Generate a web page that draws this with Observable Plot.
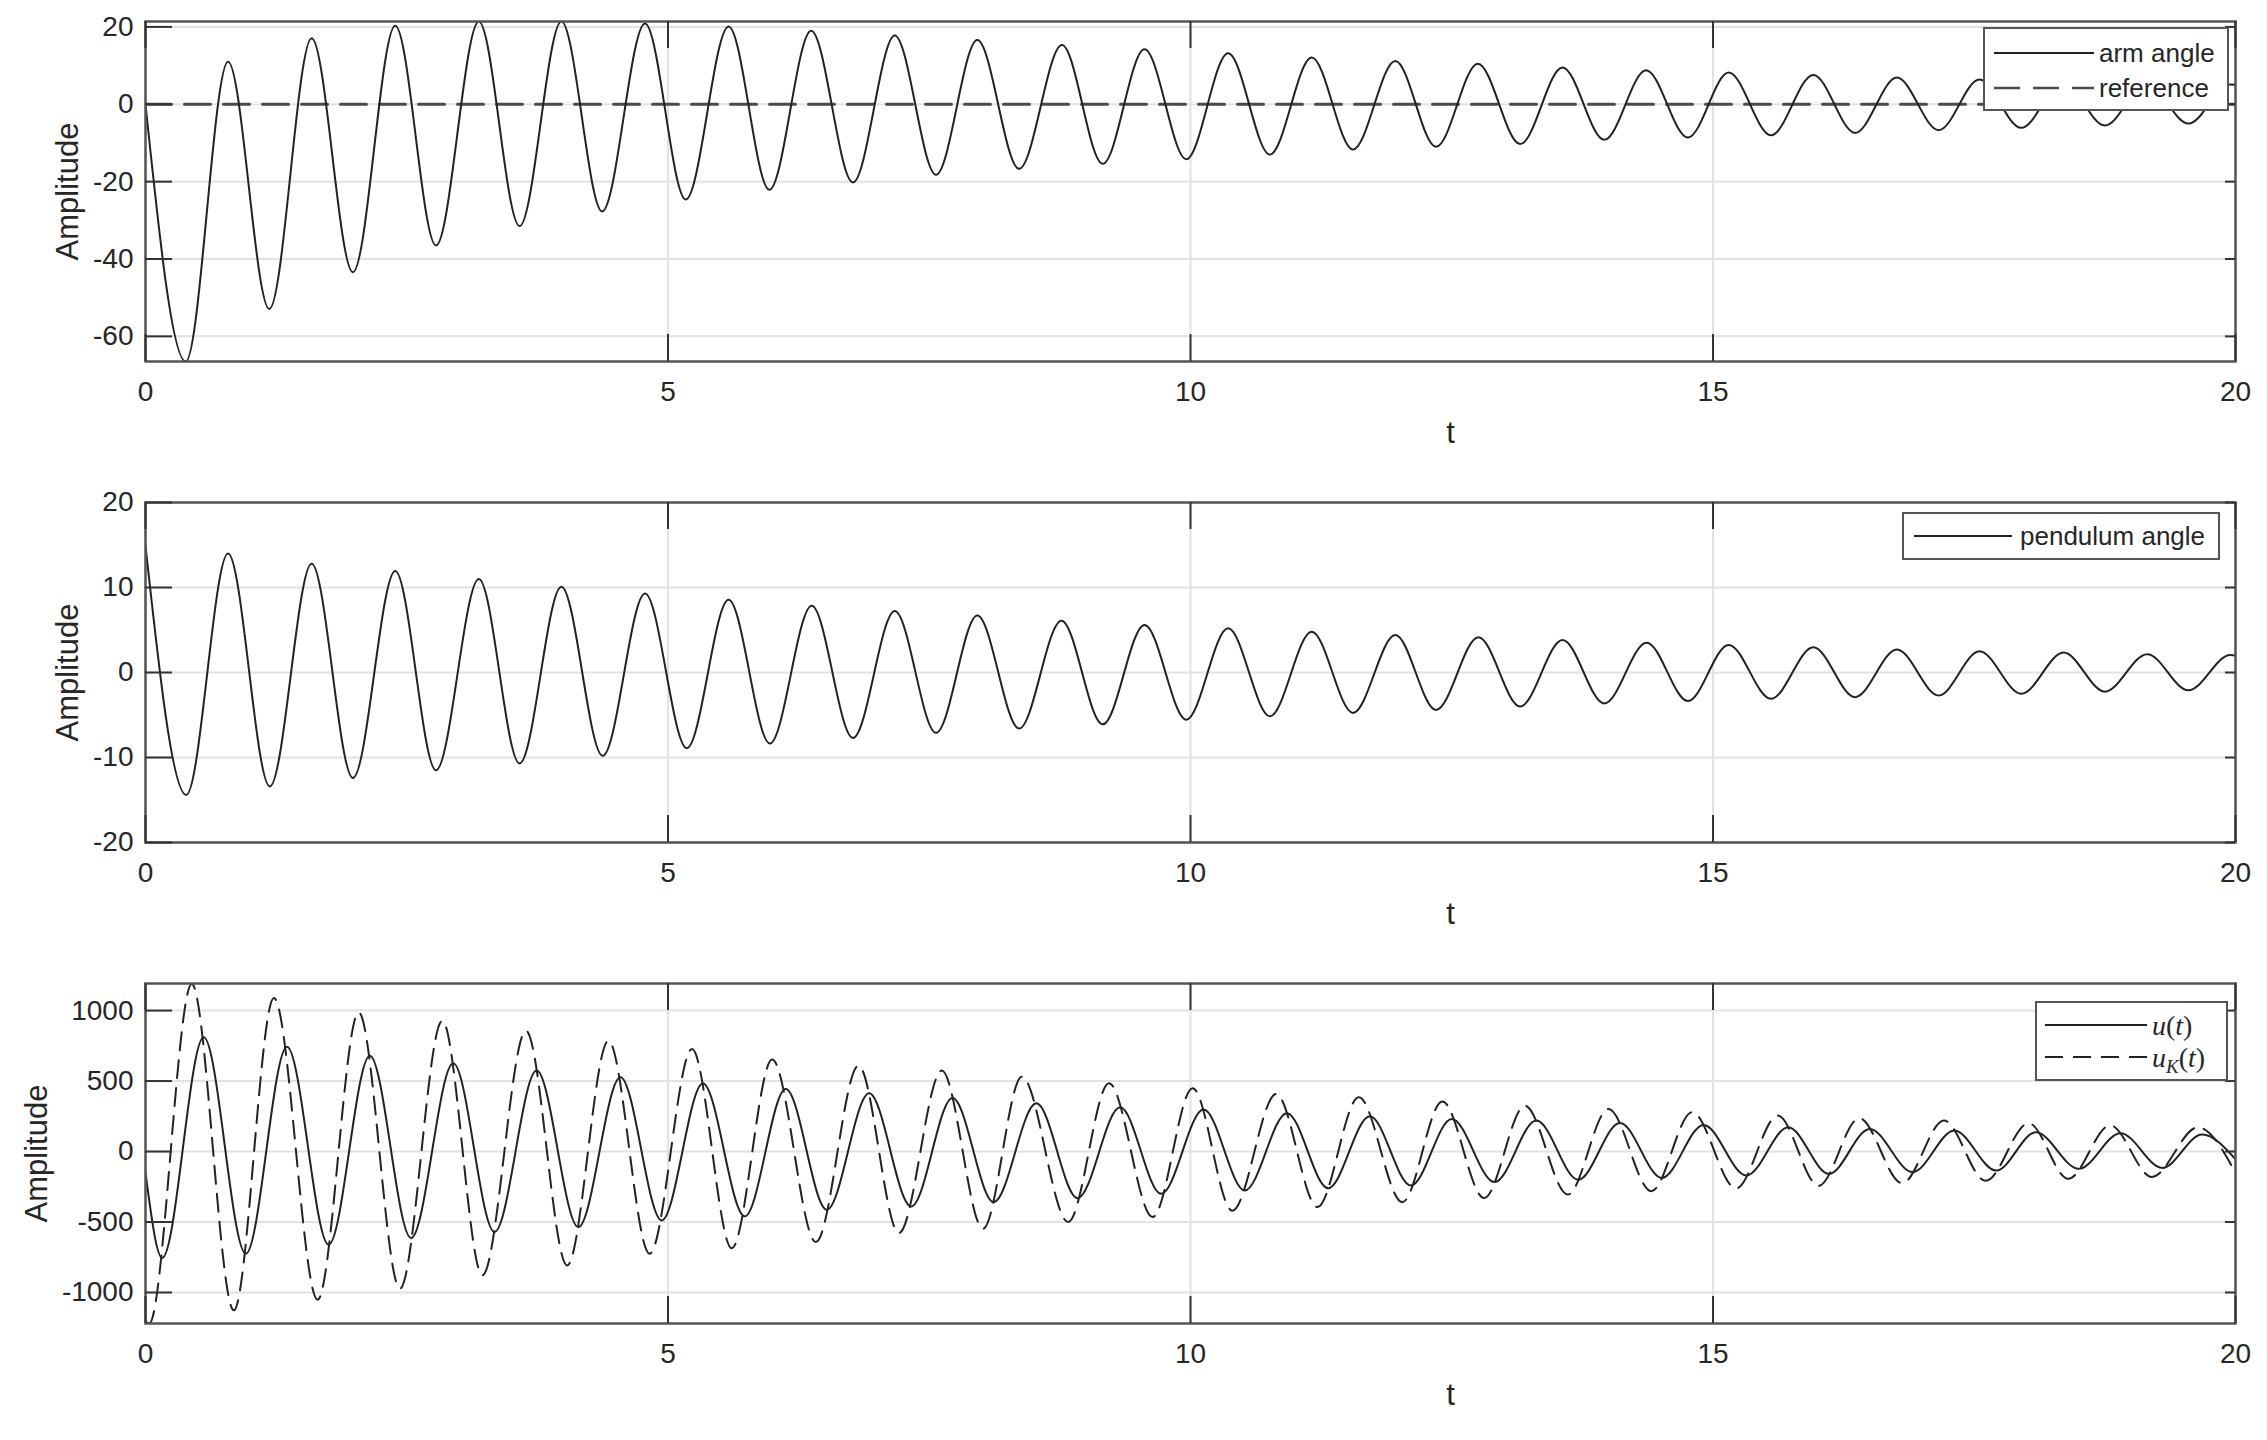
<!DOCTYPE html>
<html><head><meta charset="utf-8">
<script src="https://cdn.jsdelivr.net/npm/d3@7"></script>
<script src="https://cdn.jsdelivr.net/npm/@observablehq/plot@0.6"></script>
<style>
html,body{margin:0;padding:0;background:#fff;overflow:hidden}
#root{position:relative;width:2267px;height:1440px;background:#fff}
.panel{position:absolute;left:0}
</style></head><body><div id="root"></div>
<script>
// ---- data (extrema of each trace) ----
const xTicks = [0, 5, 10, 15, 20];
const armTicks = [-60, -40, -20, 0, 20];
const pendTicks = [-20, -10, 0, 10, 20];
const uTicks = [-1000, -500, 0, 500, 1000];

const armTime = [0, 0.385, 0.79, 1.185, 1.59, 1.985, 2.39, 2.78, 3.19, 3.58, 3.98, 4.37, 4.78, 5.17, 5.58, 5.97, 6.37, 6.77, 7.17, 7.565, 7.96, 8.36, 8.77, 9.16, 9.56, 9.96, 10.36, 10.76, 11.16, 11.555, 11.96, 12.35, 12.75, 13.155, 13.56, 13.96, 14.36, 14.76, 15.15, 15.555, 15.96, 16.36, 16.76, 17.16, 17.55, 17.95, 18.35, 18.75, 19.15, 19.55, 19.94, 20];
const armAngle = [0, -66.5, 11.0, -52.9, 17.1, -43.4, 20.3, -36.5, 21.4, -31.5, 21.4, -27.7, 20.9, -24.6, 20.1, -22.1, 19.0, -20.2, 17.8, -18.2, 16.6, -16.7, 15.3, -15.4, 14.2, -14.2, 13.2, -13.0, 12.1, -11.7, 11.2, -11.0, 10.5, -10.3, 9.5, -9.2, 8.8, -8.6, 8.2, -8.0, 7.6, -7.4, 6.9, -6.7, 6.4, -6.1, 5.9, -5.5, 5.5, -5.0, 5.1, 5.05];
const refTime = [0, 20];
const refValue = [0, 0];

const pendTime = [0, 0.39, 0.79, 1.19, 1.59, 1.985, 2.39, 2.78, 3.19, 3.58, 3.98, 4.375, 4.78, 5.18, 5.58, 5.975, 6.375, 6.77, 7.17, 7.565, 7.96, 8.36, 8.765, 9.16, 9.56, 9.96, 10.36, 10.76, 11.16, 11.555, 11.96, 12.35, 12.755, 13.155, 13.56, 13.96, 14.365, 14.76, 15.15, 15.555, 15.96, 16.36, 16.76, 17.16, 17.55, 17.95, 18.355, 18.75, 19.155, 19.55, 19.95, 20];
const pendAngle = [14.9, -14.4, 14.0, -13.4, 12.8, -12.4, 11.95, -11.5, 11.0, -10.7, 10.1, -9.8, 9.3, -8.9, 8.55, -8.35, 7.85, -7.7, 7.25, -7.1, 6.7, -6.6, 6.1, -6.1, 5.6, -5.55, 5.2, -5.15, 4.8, -4.75, 4.4, -4.4, 4.15, -4.0, 3.83, -3.65, 3.5, -3.35, 3.25, -3.1, 2.97, -2.9, 2.7, -2.7, 2.5, -2.5, 2.34, -2.25, 2.15, -2.1, 2.05, 2.0];

const uTime = [0, 0.16, 0.557, 0.96, 1.354, 1.753, 2.147, 2.542, 2.945, 3.34, 3.743, 4.142, 4.545, 4.94, 5.334, 5.735, 6.127, 6.52, 6.925, 7.328, 7.723, 8.117, 8.525, 8.92, 9.327, 9.72, 10.125, 10.52, 10.923, 11.317, 11.716, 12.11, 12.5, 12.91, 13.31, 13.71, 14.11, 14.51, 14.91, 15.32, 15.72, 16.11, 16.5, 16.91, 17.31, 17.71, 18.09, 18.5, 18.9, 19.3, 19.68, 20];
const uValue = [-150, -755, 810, -725, 744, -661, 680, -614, 626, -571, 574, -536, 527, -489, 482, -460, 444, -413, 413, -390, 380, -359, 342, -331, 314, -300, 298, -276, 272, -260, 250, -241, 231, -217, 220, -200, 203, -187, 189, -170, 172, -158, 160, -146, 149, -135, 137, -123, 130, -116, 120, -55];

const ukTime = [0, 0.035, 0.443, 0.845, 1.229, 1.647, 2.04, 2.435, 2.84, 3.224, 3.641, 4.035, 4.43, 4.824, 5.23, 5.61, 5.997, 6.415, 6.823, 7.21, 7.62, 8.015, 8.386, 8.83, 9.22, 9.638, 10.02, 10.4, 10.82, 11.215, 11.61, 12.027, 12.41, 12.81, 13.2, 13.61, 14.0, 14.41, 14.8, 15.22, 15.62, 16.01, 16.4, 16.81, 17.21, 17.61, 18.02, 18.4, 18.8, 19.2, 19.64, 20];
const ukValue = [-1205, -1220, 1188, -1126, 1089, -1051, 987, -973, 928, -878, 857, -808, 786, -725, 727, -686, 652, -642, 609, -579, 574, -548, 531, -500, 484, -465, 449, -420, 408, -394, 385, -359, 355, -330, 325, -305, 302, -282, 279, -262, 255, -243, 236, -225, 220, -208, 201, -193, 186, -180, 172, -150];

const armDomain = [-66.5, 21.4];
const pendDomain = [-20, 20];
const uDomain = [-1220, 1192];

// ---- styling ----
const W = 2267, ML = 145, MR = 32, MT = 21, PH = 340, PW = W - ML - MR;
const GRID = "#e2e2e2", FRAME = "#555", TICK = "#333", INK = "#222", TEXT = "#262626";
const FONT = "'Liberation Sans', Arial, Helvetica, sans-serif";
const TL = 27;

const rows = (ts, vs) => ts.map((t, i) => ({t, v: vs[i]}));

function panel({series, yDomain, yTicks, labelDx, height}) {
  const hasAxis = typeof Plot.axisX === "function";
  const marks = [
    Plot.ruleX(xTicks, {x: d => d, stroke: GRID, strokeWidth: 2}),
    Plot.ruleY(yTicks, {y: d => d, stroke: GRID, strokeWidth: 2}),
    ...series.map(s => Plot.line(rows(s.t, s.v), {
      x: "t", y: "v", curve: s.curve || "monotone-x", stroke: s.color, strokeWidth: s.width,
      strokeDasharray: s.dash, clip: true
    })),
    Plot.frame({stroke: FRAME, strokeWidth: 2.5}),
    Plot.ruleX(xTicks, {x: d => d, insetTop: PH - TL, stroke: TICK, strokeWidth: 2}),
    Plot.ruleX(xTicks, {x: d => d, insetBottom: PH - TL, stroke: TICK, strokeWidth: 2}),
    Plot.ruleY(yTicks, {y: d => d, insetRight: PW - TL, stroke: TICK, strokeWidth: 2}),
    Plot.ruleY(yTicks, {y: d => d, insetLeft: PW - 10, stroke: TICK, strokeWidth: 2}),
    Plot.text(["Amplitude"], {text: d => d, frameAnchor: "left", dx: labelDx, rotate: -90,
      textAnchor: "middle", lineAnchor: "middle", fontSize: 31, fill: TEXT}),
    Plot.text(["t"], {text: d => d, frameAnchor: "bottom", dx: 260, dy: 72,
      textAnchor: "middle", lineAnchor: "middle", fontSize: 31, fill: TEXT})
  ];
  if (hasAxis) {
    marks.push(
      Plot.axisX({ticks: xTicks, tickSize: 0, tickPadding: 20, fontSize: 28, fill: TEXT, label: null, tickFormat: d => String(d)}),
      Plot.axisY({ticks: yTicks, tickSize: 0, tickPadding: 12, fontSize: 28, fill: TEXT, label: null, tickFormat: d => String(d)})
    );
  }
  return Plot.plot({
    width: W, height,
    marginLeft: ML, marginRight: MR, marginTop: MT, marginBottom: height - MT - PH,
    x: {domain: [0, 20], ticks: xTicks, tickSize: 0, tickPadding: 20, label: null, tickFormat: d => String(d)},
    y: {domain: yDomain, ticks: yTicks, tickSize: 0, tickPadding: 12, label: null, tickFormat: d => String(d)},
    style: {fontFamily: FONT, fontSize: "28px", color: TEXT, background: "white", overflow: "visible"},
    marks
  });
}

function addLegend(svg, lg) {
  const g = d3.select(svg).append("g").attr("text-anchor", "start");
  g.append("rect").attr("x", lg.x).attr("y", lg.y).attr("width", lg.w).attr("height", lg.h)
    .attr("fill", "white").attr("stroke", FRAME).attr("stroke-width", 2);
  lg.items.forEach(it => {
    g.append("line").attr("x1", lg.sx1).attr("x2", lg.sx2).attr("y1", it.y).attr("y2", it.y)
      .attr("stroke", it.color).attr("stroke-width", it.width)
      .attr("stroke-dasharray", it.dash || null);
    const t = g.append("text").attr("x", lg.tx).attr("y", it.y).attr("dy", "0.35em")
      .attr("text-anchor", "start").attr("fill", TEXT);
    if (it.math) {
      t.attr("font-family", "'Liberation Serif', 'Times New Roman', serif").attr("font-size", 28);
      it.math.forEach(p => {
        const s = t.append("tspan").text(p.s);
        if (p.i) s.attr("font-style", "italic");
        if (p.sub) s.attr("font-size", 19).attr("dy", "0.3em");
        if (p.up) s.attr("dy", "-0.2em");
      });
    } else {
      t.attr("font-family", FONT).attr("font-size", 26).text(it.label);
    }
  });
}

const root = document.getElementById("root");
function place(svg, top) {
  const d = document.createElement("div");
  d.className = "panel"; d.style.top = top + "px";
  d.appendChild(svg); root.appendChild(d);
}

// Panel 1
const p1 = panel({
  series: [
    {t: refTime, v: refValue, color: "#4a4a4a", width: 3, dash: "26,13", curve: "linear"},
    {t: armTime, v: armAngle, color: INK, width: 2}
  ],
  yDomain: armDomain, yTicks: armTicks, labelDx: -77, height: 481
});
addLegend(p1, {x: 1984, y: 28, w: 244, h: 82, sx1: 1994, sx2: 2094, tx: 2099, items: [
  {label: "arm angle", y: 53, color: INK, width: 2},
  {label: "reference", y: 88, color: "#4a4a4a", width: 2.5, dash: "26,13"}
]});
place(p1, 0);

// Panel 2
const p2 = panel({
  series: [{t: pendTime, v: pendAngle, color: INK, width: 2}],
  yDomain: pendDomain, yTicks: pendTicks, labelDx: -77, height: 481
});
addLegend(p2, {x: 1903, y: 32, w: 316, h: 46, sx1: 1914, sx2: 2012, tx: 2020, items: [
  {label: "pendulum angle", y: 55, color: INK, width: 2}
]});
place(p2, 481);

// Panel 3
const p3 = panel({
  series: [
    {t: ukTime, v: ukValue, color: INK, width: 2, dash: "18,10"},
    {t: uTime, v: uValue, color: INK, width: 2}
  ],
  yDomain: uDomain, yTicks: uTicks, labelDx: -108, height: 478
});
addLegend(p3, {x: 2036, y: 40, w: 191, h: 78, sx1: 2045, sx2: 2147, tx: 2152, items: [
  {y: 63, color: INK, width: 2, math: [{s: "u", i: true}, {s: "("}, {s: "t", i: true}, {s: ")"}]},
  {y: 95, color: INK, width: 2, dash: "18,10", math: [{s: "u", i: true}, {s: "K", i: true, sub: true}, {s: "(", up: true}, {s: "t", i: true}, {s: ")"}]}
]});
place(p3, 962);
</script>
</body></html>
